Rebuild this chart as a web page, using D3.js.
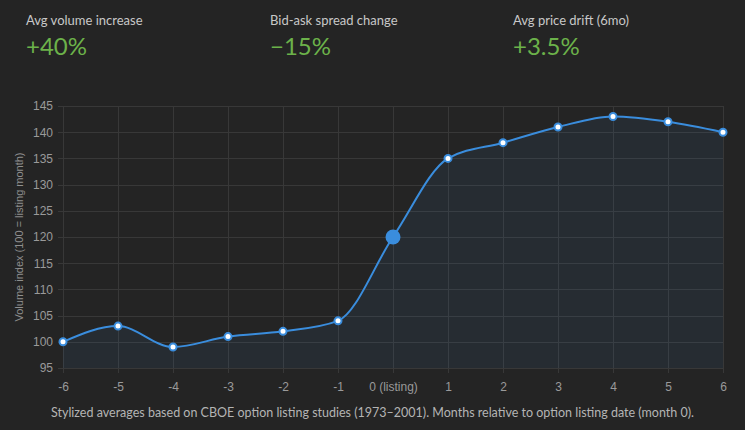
<!DOCTYPE html>
<html>
<head>
<meta charset="utf-8">
<script src="https://cdn.jsdelivr.net/npm/d3@7"></script>
<style>
  html, body { margin: 0; padding: 0; background: #242424; }
  svg { display: block; }
</style>
</head>
<body>
<div id="chart-area"></div>
<script>
const statLabels = ["Avg volume increase", "Bid-ask spread change", "Avg price drift (6mo)"];
const statValues = ["+40%", "\u221215%", "+3.5%"];

const months = [-6, -5, -4, -3, -2, -1, 0, 1, 2, 3, 4, 5, 6];
const volumeIndex = [100, 103, 99, 101, 102, 104, 120, 135, 138, 141, 143, 142, 140];
const yTicks = [95, 100, 105, 110, 115, 120, 125, 130, 135, 140, 145];

const canvasWidth = 745;
const canvasHeight = 430;
const plot = {left: 63, right: 723, top: 106, bottom: 368};

const textFont = "Lato, 'Open Sans', sans-serif";
const axisFont = "'Liberation Sans', Arial, sans-serif";
const lineColor = "#3a8ddd";

const svg = d3.select("#chart-area").append("svg").attr("width", canvasWidth).attr("height", canvasHeight);

// stat cards on top
const statX = [26, 270, 513];
statLabels.forEach((label, i) => {
	svg.append("text").attr("x", statX[i]).attr("y", 25)
		.attr("font-family", textFont).attr("font-size", "13px").attr("fill", "#c8c8c8")
		.text(label);
	svg.append("text").attr("x", statX[i]).attr("y", 55)
		.attr("font-family", textFont).attr("font-size", "24px").attr("fill", "#6cb24a")
		.text(statValues[i]);
});

const scaleX = d3.scaleLinear().domain([-6, 6]).range([plot.left, plot.right]);
const scaleY = d3.scaleLinear().domain([95, 145]).range([plot.bottom, plot.top]);

// grid
const grid = svg.append("g").attr("stroke", "#383838").attr("stroke-width", 1);
yTicks.forEach(t => {
	grid.append("line").attr("x1", plot.left - 5).attr("x2", plot.right)
		.attr("y1", Math.round(scaleY(t)) + 0.5).attr("y2", Math.round(scaleY(t)) + 0.5);
});
months.forEach(m => {
	grid.append("line").attr("y1", plot.top).attr("y2", plot.bottom + 5)
		.attr("x1", Math.round(scaleX(m)) + 0.5).attr("x2", Math.round(scaleX(m)) + 0.5);
});

// axes labels
const yAxis = d3.axisLeft(scaleY).tickValues(yTicks).tickSize(0).tickPadding(10);
const yg = svg.append("g").attr("transform", `translate(${plot.left}, 0)`).call(yAxis);
const xAxis = d3.axisBottom(scaleX).tickValues(months).tickSize(0).tickPadding(14)
	.tickFormat(m => m === 0 ? "0 (listing)" : m);
const xg = svg.append("g").attr("transform", `translate(0, ${plot.bottom})`).call(xAxis);
[yg, xg].forEach(g => {
	g.select(".domain").remove();
	g.selectAll("text").attr("font-family", axisFont).attr("font-size", "12px").attr("fill", "#9a9a9a");
});

svg.append("text")
	.attr("transform", `translate(23, ${(plot.top + plot.bottom) / 2}) rotate(-90)`)
	.attr("text-anchor", "middle")
	.attr("font-family", axisFont).attr("font-size", "11px").attr("fill", "#8f8f8f")
	.text("Volume index (100 = listing month)");

// area + line
const points = months.map((m, i) => ({month: m, value: volumeIndex[i]}));

const area = d3.area().curve(d3.curveMonotoneX)
	.x(d => scaleX(d.month)).y0(plot.bottom).y1(d => scaleY(d.value));
svg.append("path").datum(points).attr("d", area).attr("fill", "rgba(58,141,221,0.08)");

const line = d3.line().curve(d3.curveMonotoneX)
	.x(d => scaleX(d.month)).y(d => scaleY(d.value));
svg.append("path").datum(points).attr("d", line)
	.attr("fill", "none").attr("stroke", lineColor).attr("stroke-width", 2);

svg.selectAll("circle.pt").data(points).enter().append("circle")
	.attr("class", "pt")
	.attr("cx", d => scaleX(d.month))
	.attr("cy", d => scaleY(d.value))
	.attr("r", d => d.month === 0 ? 7.5 : 3.5)
	.attr("fill", d => d.month === 0 ? lineColor : "#ffffff")
	.attr("stroke", lineColor)
	.attr("stroke-width", d => d.month === 0 ? 0 : 2);

// caption
svg.append("text").attr("x", canvasWidth / 2).attr("y", 417)
	.attr("text-anchor", "middle")
	.attr("font-family", textFont).attr("font-size", "12.5px").attr("fill", "#b4b4b4")
	.text("Stylized averages based on CBOE option listing studies (1973\u20132001). Months relative to option listing date (month 0).");
</script>
</body>
</html>
